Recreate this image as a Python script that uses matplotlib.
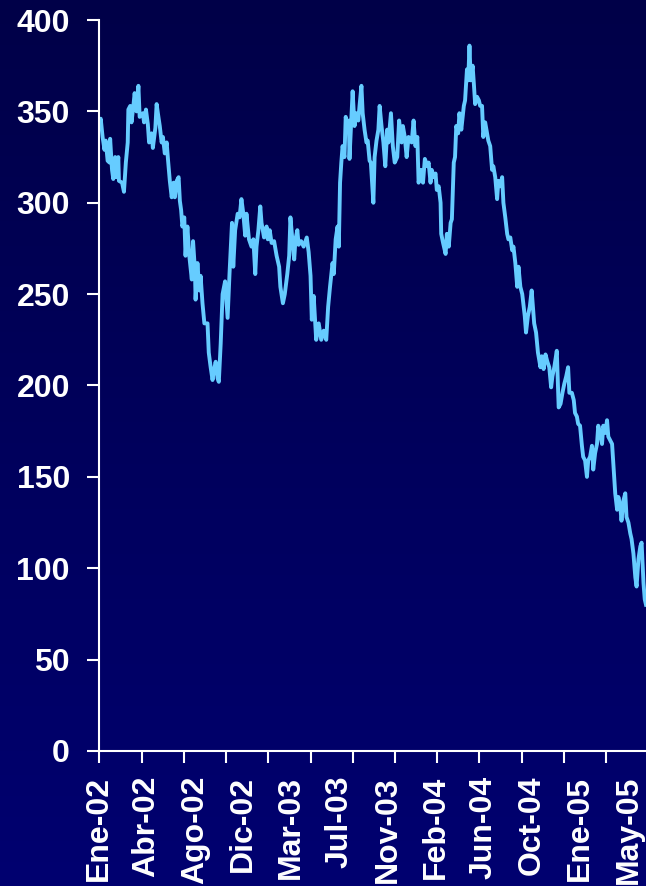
import numpy as np
import matplotlib
matplotlib.use("Agg")
import matplotlib.pyplot as plt
from matplotlib.colors import LinearSegmentedColormap

# trading-day index since the start of Jan 2002, and the index value
day = [0, 2, 5, 8, 10, 13, 16, 17, 20, 22,
       25, 27, 30, 31, 36, 39, 42, 45, 46, 49,
       51, 54, 56, 59, 62, 64, 69, 71, 74, 77,
       79, 83, 85, 89, 91, 93, 96, 99, 101, 104,
       107, 109, 112, 115, 118, 120, 123, 126, 128, 130,
       132, 135, 137, 140, 143, 147, 149, 152, 153, 156,
       159, 161, 164, 167, 172, 174, 177, 180, 182, 185,
       188, 190, 193, 196, 200, 204, 207, 211, 213, 216,
       220, 223, 226, 229, 232, 234, 238, 242, 245, 248,
       250, 253, 256, 258, 262, 266, 268, 271, 274, 278,
       282, 286, 288, 292, 295, 299, 302, 304, 307, 310,
       312, 315, 317, 321, 325, 330, 333, 336, 338, 341,
       345, 349, 353, 357, 361, 364, 367, 371, 373, 376,
       379, 381, 383, 385, 387, 390, 392, 394, 397, 398,
       401, 403, 406, 409, 412, 414, 417, 419, 422, 425,
       427, 430, 432, 436, 438, 441, 444, 446, 449, 452,
       455, 458, 460, 464, 467, 470, 474, 477, 481, 483,
       486, 489, 492, 497, 500, 503, 506, 508, 512, 515,
       518, 522, 524, 527, 529, 532, 535, 537, 540, 543,
       544, 547, 551, 553, 556, 559, 561, 564, 566, 568,
       571, 573, 576, 580, 582, 585, 587, 589, 591, 594,
       596, 598, 601, 604, 606, 609, 611, 614, 617, 619,
       622, 625, 627, 630, 633, 635, 638, 641, 643, 646,
       649, 651, 654, 657, 659, 662, 665, 667, 670, 673,
       677, 679, 682, 685, 688, 692, 695, 698, 702, 704,
       707, 710, 713, 716, 719, 721, 724, 728, 731, 734,
       737, 740, 743, 746, 748, 752, 755, 757, 760, 762,
       765, 768, 770, 773, 776, 778, 781, 784, 786, 789,
       792, 794, 797, 800, 802, 805, 808, 810, 813, 816,
       818, 821, 824, 826, 829, 831, 834, 837, 839, 842,
       845, 847, 850, 853, 855, 858, 861, 863, 866, 868,
       870]

price = [342, 346, 336, 329, 334, 323, 322, 335, 318, 313,
         325, 314, 325, 312, 311, 306, 322, 333, 351, 353,
         344, 353, 360, 350, 364, 347, 349, 344, 351, 343,
         333, 338, 330, 341, 354, 349, 342, 333, 336, 327,
         333, 324, 312, 303, 311, 303, 312, 314, 301, 296,
         287, 292, 271, 287, 271, 258, 279, 263, 247, 267,
         252, 260, 245, 234, 234, 218, 210, 203, 208, 213,
         204, 202, 223, 250, 257, 237, 261, 289, 265, 285,
         294, 292, 302, 294, 282, 294, 280, 276, 280, 261,
         276, 285, 298, 289, 281, 287, 280, 285, 278, 279,
         271, 265, 254, 245, 250, 261, 271, 292, 280, 269,
         280, 285, 277, 279, 276, 281, 273, 260, 236, 249,
         225, 234, 225, 230, 225, 243, 254, 267, 261, 280,
         287, 276, 311, 322, 331, 325, 347, 342, 345, 324,
         347, 361, 342, 349, 345, 353, 364, 349, 340, 333,
         334, 323, 322, 300, 325, 334, 340, 353, 342, 333,
         320, 340, 333, 349, 331, 322, 325, 345, 333, 342,
         336, 325, 336, 333, 345, 331, 336, 311, 318, 311,
         324, 320, 322, 311, 318, 314, 316, 307, 309, 300,
         283, 278, 272, 283, 276, 289, 291, 322, 325, 342,
         338, 349, 340, 353, 356, 373, 367, 386, 367, 375,
         365, 354, 358, 356, 353, 353, 336, 344, 338, 334,
         331, 318, 320, 314, 302, 312, 309, 314, 300, 292,
         283, 280, 281, 274, 276, 267, 254, 265, 254, 250,
         238, 229, 238, 243, 252, 234, 229, 218, 210, 216,
         209, 217, 213, 210, 199, 205, 210, 219, 188, 190,
         196, 201, 205, 210, 196, 196, 192, 185, 183, 179,
         178, 167, 161, 159, 150, 159, 161, 167, 154, 163,
         168, 178, 174, 168, 178, 174, 181, 172, 170, 168,
         157, 141, 132, 139, 134, 126, 137, 141, 128, 125,
         119, 116, 108, 95, 90, 105, 112, 114, 92, 83,
         80]

tick_labels = ['Ene-02', 'Abr-02', 'Ago-02', 'Dic-02', 'Mar-03', 'Jul-03',
               'Nov-03', 'Feb-04', 'Jun-04', 'Oct-04', 'Ene-05', 'May-05']
label_step = 76.7   # trading days between category labels
mark_step = 67.2    # trading days between tick marks
n_days = 870

font = ['Liberation Sans', 'DejaVu Sans']
plt.rcParams['font.family'] = font

fig = plt.figure(figsize=(6.46, 8.86), dpi=100)

# dark navy gradient background
bg = fig.add_axes([0, 0, 1, 1])
grad = np.linspace(0, 1, 256).reshape(-1, 1)
cmap = LinearSegmentedColormap.from_list('navy', ['#000048', '#000070'])
bg.imshow(grad, aspect='auto', cmap=cmap, extent=[0, 1, 0, 1])
bg.set_axis_off()

ax = fig.add_axes([0.1525, 0.1524, 0.8475, 0.825])
ax.set_facecolor('none')
ax.plot(day, price, color='#66ccff', linewidth=2.8, solid_joinstyle='round')

ax.set_xlim(0, n_days)
ax.set_ylim(0, 400)
ax.set_yticks(np.arange(0, 401, 50))

ax.set_xticks(np.arange(len(tick_labels)) * label_step - 1.5)
ax.set_xticklabels(tick_labels, rotation=90, va='top')
ax.set_xticks(np.arange(13) * mark_step, minor=True)
ax.tick_params(axis='x', which='major', length=0, pad=18)
ax.tick_params(axis='x', which='minor', length=8.6, width=1.5,
               color='white', direction='out')
ax.tick_params(axis='y', length=8.6, width=1.5, color='white',
               direction='out', pad=12)

for lbl in ax.get_xticklabels() + ax.get_yticklabels():
    lbl.set_color('white')
    lbl.set_fontweight('bold')
    lbl.set_fontsize(23)

for side in ['top', 'right']:
    ax.spines[side].set_visible(False)
for side in ['left', 'bottom']:
    ax.spines[side].set_color('white')
    ax.spines[side].set_linewidth(1.5)

fig.savefig('out.png', dpi=100)
